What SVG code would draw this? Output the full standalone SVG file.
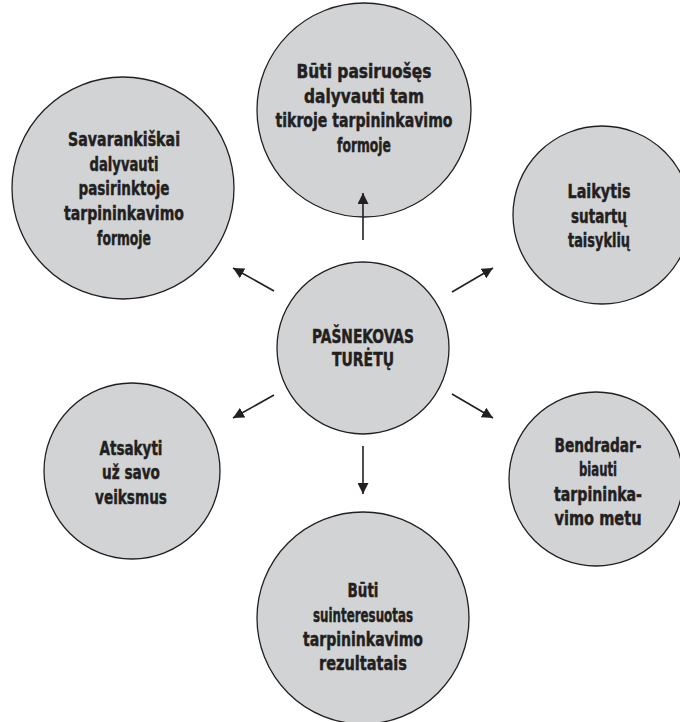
<svg xmlns="http://www.w3.org/2000/svg" width="680" height="722" viewBox="0 0 680 722">
<style>
.node circle{fill:#d1d3d4;stroke:#231f20;stroke-width:1.3}
.node text{font-family:"DejaVu Sans Condensed","DejaVu Sans",sans-serif;font-weight:bold;font-size:19.5px;fill:#231f20;stroke:#231f20;stroke-width:0.45;text-anchor:middle}
.conn line{stroke:#231f20;stroke-width:1.6;fill:none}
</style>
<defs>
<marker id="ah" viewBox="0 0 11 11" refX="11" refY="5.5" markerWidth="11" markerHeight="11" markerUnits="userSpaceOnUse" orient="auto">
<path d="M0,0 L11,5.5 L0,11 Z" fill="#231f20"/>
</marker>
</defs>
<rect width="680" height="722" fill="#ffffff"/>
<g id="n-top" class="node">
<circle cx="364" cy="110" r="107"/>
<text x="364" y="78" textLength="135" lengthAdjust="spacingAndGlyphs">Būti pasiruošęs</text>
<text x="364" y="102.5" textLength="120" lengthAdjust="spacingAndGlyphs">dalyvauti tam</text>
<text x="364" y="127" textLength="177" lengthAdjust="spacingAndGlyphs">tikroje tarpininkavimo</text>
<text x="364" y="151.5" textLength="54" lengthAdjust="spacingAndGlyphs">formoje</text>
</g>
<g id="n-lefttop" class="node">
<circle cx="123" cy="188" r="111"/>
<text x="124" y="146" textLength="112" lengthAdjust="spacingAndGlyphs">Savarankiškai</text>
<text x="124" y="171" textLength="69" lengthAdjust="spacingAndGlyphs">dalyvauti</text>
<text x="124" y="195" textLength="91" lengthAdjust="spacingAndGlyphs">pasirinktoje</text>
<text x="124" y="220" textLength="120" lengthAdjust="spacingAndGlyphs">tarpininkavimo</text>
<text x="124" y="245" textLength="54" lengthAdjust="spacingAndGlyphs">formoje</text>
</g>
<g id="n-righttop" class="node">
<circle cx="602" cy="215" r="89"/>
<text x="599" y="198" textLength="63" lengthAdjust="spacingAndGlyphs">Laikytis</text>
<text x="599" y="222.5" textLength="56" lengthAdjust="spacingAndGlyphs">sutartų</text>
<text x="599" y="247" textLength="62" lengthAdjust="spacingAndGlyphs">taisyklių</text>
</g>
<g id="n-center" class="node">
<circle cx="363" cy="348" r="86"/>
<text x="363" y="343" textLength="102" lengthAdjust="spacingAndGlyphs">PAŠNEKOVAS</text>
<text x="363" y="366" textLength="62" lengthAdjust="spacingAndGlyphs">TURĖTŲ</text>
</g>
<g id="n-leftbottom" class="node">
<circle cx="132" cy="471" r="88"/>
<text x="131" y="455" textLength="63" lengthAdjust="spacingAndGlyphs">Atsakyti</text>
<text x="131" y="479" textLength="58" lengthAdjust="spacingAndGlyphs">už savo</text>
<text x="131" y="504" textLength="72" lengthAdjust="spacingAndGlyphs">veiksmus</text>
</g>
<g id="n-rightbottom" class="node">
<circle cx="596" cy="479" r="87"/>
<text x="598" y="451.5" textLength="87" lengthAdjust="spacingAndGlyphs">Bendradar-</text>
<text x="598" y="476" textLength="38" lengthAdjust="spacingAndGlyphs">biauti</text>
<text x="598" y="501" textLength="88" lengthAdjust="spacingAndGlyphs">tarpininka-</text>
<text x="598" y="525" textLength="87" lengthAdjust="spacingAndGlyphs">vimo metu</text>
</g>
<g id="n-bottom" class="node">
<circle cx="363" cy="618" r="106"/>
<text x="363" y="597" textLength="31" lengthAdjust="spacingAndGlyphs">Būti</text>
<text x="363" y="621.5" textLength="100" lengthAdjust="spacingAndGlyphs">suinteresuotas</text>
<text x="363" y="645.5" textLength="120" lengthAdjust="spacingAndGlyphs">tarpininkavimo</text>
<text x="363" y="670" textLength="88" lengthAdjust="spacingAndGlyphs">rezultatais</text>
</g>
<g id="connectors" class="conn">
<line x1="363" y1="240" x2="363" y2="193" marker-end="url(#ah)"/>
<line x1="274" y1="291" x2="233" y2="268" marker-end="url(#ah)"/>
<line x1="452" y1="292" x2="493" y2="268" marker-end="url(#ah)"/>
<line x1="274" y1="395" x2="233" y2="418" marker-end="url(#ah)"/>
<line x1="452" y1="394" x2="493" y2="418" marker-end="url(#ah)"/>
<line x1="363" y1="446" x2="363" y2="494" marker-end="url(#ah)"/>
</g>
</svg>
